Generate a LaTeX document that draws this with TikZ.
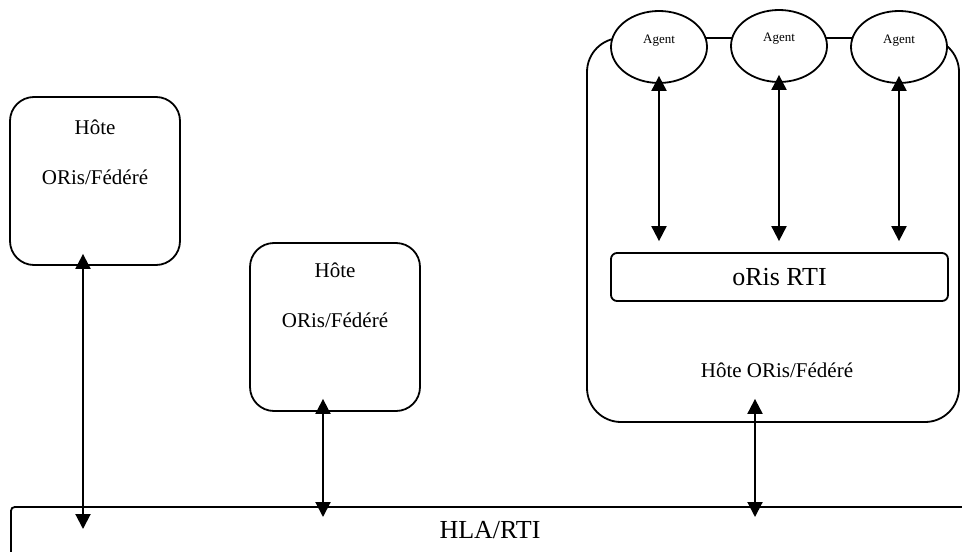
\documentclass[tikz,border=0pt]{standalone}
\usepackage{fontspec}
\setmainfont{Liberation Serif}
\usetikzlibrary{shapes.geometric,arrows.meta,calc}

\tikzset{
	host/.style={shape=rectangle, draw=black, line width=0.9pt, rounded corners=12pt, minimum width=85pt, minimum height=84pt, inner sep=0pt},
	hosttxt/.style={font=\fontsize{10.5}{12}\selectfont, inner sep=0pt},
	bigtxt/.style={font=\fontsize{13}{15}\selectfont},
	agent/.style={shape=ellipse, draw=black, fill=white, line width=0.9pt, minimum width=48pt, minimum height=36pt, inner sep=0pt},
	link/.style={line width=1pt, {Triangle[length=7.5pt,width=7.5pt]}-{Triangle[length=7.5pt,width=7.5pt]}}
}

\begin{document}
\begin{tikzpicture}[x=0.5pt,y=-0.5pt]
				\clip (0,0) rectangle (962,551);
				% bus
				\node[shape=rectangle, draw=black, line width=0.9pt, rounded corners=2pt, minimum width=490pt, minimum height=40pt, anchor=north west] (hla) at (10,506) {};
				\node[bigtxt] (hlatxt) at (490,530) {HLA/RTI};
				% hosts
				\node[host] (h1) at (95,181) {};
				\node[hosttxt] (h1a) at (95,127) {Hôte};
				\node[hosttxt] (h1b) at (95,177) {ORis/Fédéré};
				\node[host] (h2) at (335,327) {};
				\node[hosttxt] (h2a) at (335,270) {Hôte};
				\node[hosttxt] (h2b) at (335,320) {ORis/Fédéré};
				\node[host, rounded corners=17pt, minimum width=186pt, minimum height=192pt] (h3) at (773,230) {};
				\node[hosttxt] (h3a) at (777,370) {Hôte ORis/Fédéré};
				\node[shape=rectangle, draw=black, line width=0.9pt, rounded corners=3pt, minimum width=168.5pt, minimum height=24pt, bigtxt] (rti) at (779.5,277) {oRis RTI};
				% agents
				\node[agent, label={[font=\fontsize{6.5}{8}\selectfont, yshift=3pt]center:Agent}] (a1) at (659,47) {};
				\node[agent, label={[font=\fontsize{6.5}{8}\selectfont, yshift=3.5pt]center:Agent}] (a2) at (779,46) {};
				\node[agent, label={[font=\fontsize{6.5}{8}\selectfont, yshift=3pt]center:Agent}] (a3) at (899,47) {};
				\foreach \a in {a1,a2,a3}
					\draw[link] ($(\a.south)+(0,-8)$) -- ($(\a.south |- rti.north)+(0,-11)$);
				\draw[link] ($(h1.south)+(-12,-12)$) -- ($(h1.south |- hla.north)+(-12,23)$);
				\draw[link] ($(h2.south)+(-12,-13)$) -- ($(h2.south |- hla.north)+(-12,11)$);
				\draw[link] ($(h3.south)+(-18,-24)$) -- ($(h3.south |- hla.north)+(-18,11)$);
			\end{tikzpicture}
\end{document}
